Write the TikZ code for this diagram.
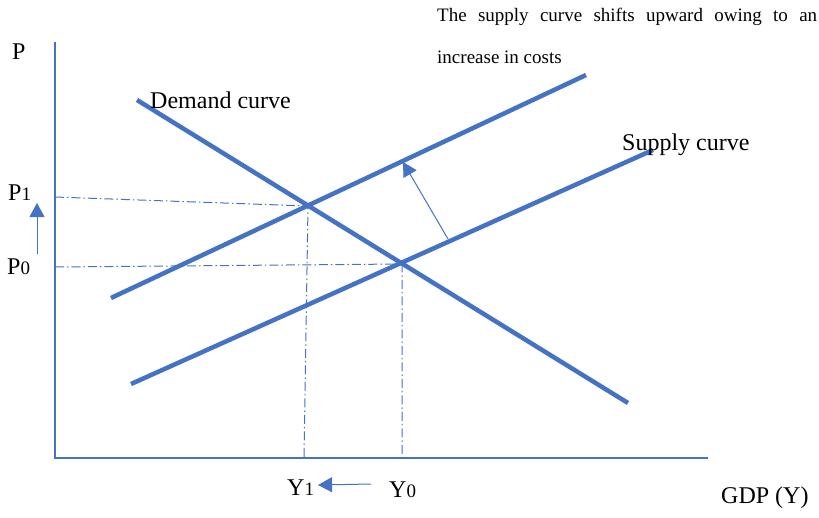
\documentclass[tikz,border=0pt]{standalone}
\usepackage{fontspec}
\setmainfont{Liberation Serif}
\usepackage{tikz}
\usetikzlibrary{arrows.meta}
\definecolor{curveblue}{RGB}{68,114,196}

\begin{document}
\begin{tikzpicture}[x=1pt,y=-1pt,
  curve/.style={curveblue,line width=4.5pt},
  guide/.style={curveblue,line width=1pt,dash pattern=on 9pt off 3pt on 1.5pt off 3pt},
  movearrow/.style={curveblue,line width=1pt,-{Triangle[length=14pt,width=15pt]}},
  lab/.style={font=\fontsize{24}{28}\selectfont,inner sep=0pt,anchor=base west}]
  \useasboundingbox (0,0) rectangle (819,517);
  % axes
  \coordinate (O) at (55,458);\coordinate (ytop) at (55,42);\coordinate (xend) at (708,458);
  \draw[curveblue,line width=1.2pt] (ytop) -- (O) -- (xend);
  % curves
  \coordinate (D0) at (137,100);\coordinate (D1) at (628,403);
  \coordinate (Sa0) at (131,384);\coordinate (Sa1) at (653,150);
  \coordinate (Sb0) at (111,298);\coordinate (Sb1) at (586,75);
  \draw[curve] (D0) -- (D1);
  \draw[curve] (Sa0) -- (Sa1);
  \draw[curve] (Sb0) -- (Sb1);
  % equilibria and guides
  \coordinate (E1) at (308,206);\coordinate (E0) at (402,264);
  \coordinate (P1y) at (55,197);\coordinate (P0y) at (55,267);
  \coordinate (Y1x) at (304,458);\coordinate (Y0x) at (402,458);
  \draw[guide] (P1y) -- (E1) -- (Y1x);
  \draw[guide] (P0y) -- (E0) -- (Y0x);
  % shift arrow
  \coordinate (sh0) at (448,239);\coordinate (sh1) at (403,162);
  \draw[movearrow] (sh0) -- (sh1);
  % labels
  \node[lab] (p) at (12,59) {P};
  \node[lab] (p1) at (8,200) {P{\fontsize{19}{20}\selectfont 1}};
  \node[lab] (p0) at (7,274) {P{\fontsize{19}{20}\selectfont 0}};
  \node[lab] (y1) at (287,495) {Y{\fontsize{19}{20}\selectfont 1}};
  \node[lab] (y0) at (389,497) {Y{\fontsize{19}{20}\selectfont 0}};
  \node[lab] (gdp) at (721,503) {GDP (Y)};
  \node[lab] (dem) at (150,108) {Demand curve};
  \node[lab] (sup) at (622,150) {Supply curve};
  \node[inner sep=0pt,anchor=base west,font=\fontsize{19}{22}\selectfont] (note1) at (437,21)
    {\makebox[380pt][s]{The supply curve shifts upward owing to an}};
  \node[inner sep=0pt,anchor=base west,font=\fontsize{19}{22}\selectfont] (note2) at (437,63)
    {increase in costs};
  % movement arrows
  \coordinate (pa0) at (37,254);\coordinate (pa1) at (37,203);
  \draw[movearrow] (pa0) -- (pa1);
  \coordinate (ya0) at (371,484);\coordinate (ya1) at (318,485);
  \draw[movearrow] (ya0) -- (ya1);
\end{tikzpicture}
\end{document}
